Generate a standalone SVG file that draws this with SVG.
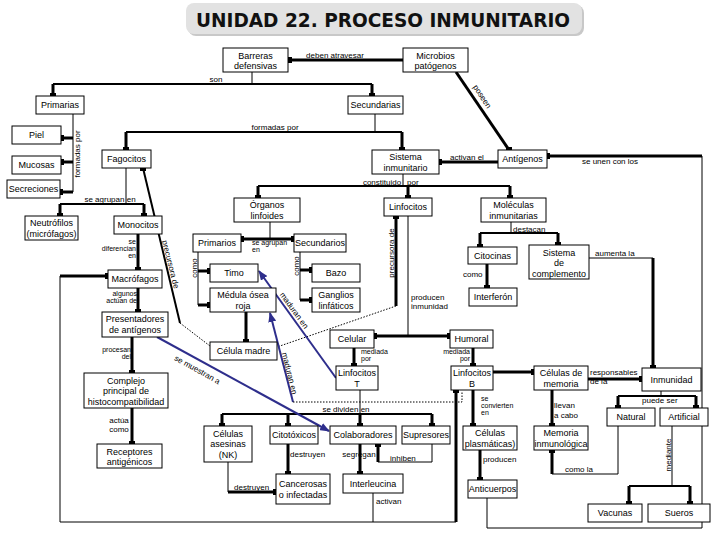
<svg xmlns="http://www.w3.org/2000/svg" width="720" height="540" viewBox="0 0 720 540">
<defs>
<marker id="sq" markerWidth="6" markerHeight="6" refX="3" refY="3" markerUnits="userSpaceOnUse"><rect width="6" height="6" fill="#000"/></marker>
<marker id="ar" markerWidth="10" markerHeight="8" refX="9" refY="4" orient="auto" markerUnits="userSpaceOnUse"><path d="M0,0 L10,4 L0,8 Z" fill="#2e2e8c"/></marker>
<style>
.b{fill:#fff;stroke:#000;stroke-width:1}
text{font-family:"Liberation Sans",Arial,sans-serif;font-size:9px;fill:#000}
.c{text-anchor:middle}
.r{text-anchor:end}
.l{font-size:8px}
.s{font-size:7px}
.thin{stroke:#000;stroke-width:1;fill:none}
.med{stroke:#000;stroke-width:2;fill:none}
.thk{stroke:#000;stroke-width:3;fill:none}
.e{marker-end:url(#sq)}
.blue{stroke:#2e2e8c;stroke-width:2;fill:none;marker-end:url(#ar)}
.dot{stroke:#000;stroke-width:1;stroke-dasharray:1.5 1.5;fill:none}
</style>
</defs>
<rect width="720" height="540" fill="#fff"/>

<g id="title">
<rect x="188" y="5" width="396" height="31" rx="8" fill="#c8c8c8"/>
<rect x="186" y="3" width="396" height="31" rx="8" fill="#e2e2e2"/>
<text x="383" y="27" class="c" style="font-family:'DejaVu Sans',Verdana,sans-serif;font-size:20px;font-weight:bold;fill:#111" textLength="374" lengthAdjust="spacingAndGlyphs">UNIDAD 22. PROCESO INMUNITARIO</text>
</g>

<g id="connectors">
<path class="thk e" d="M403,60 H289"/>
<path class="thin" d="M252,72 V84"/>
<path class="med" d="M53,84 H372"/>
<path class="thk e" d="M53,84 V96"/>
<path class="thk e" d="M372,84 V96"/>
<path class="thk e" d="M456,72 L509,150"/>
<path class="thin" d="M73,114 V192"/>
<path class="thk e" d="M73,138 H61"/>
<path class="thk e" d="M73,162 H61"/>
<path class="thk e" d="M73,192 H60"/>
<path class="thin" d="M375,114 V132"/>
<path class="med" d="M126,132 H402"/>
<path class="thk e" d="M126,132 V150"/>
<path class="thk e" d="M402,132 V150"/>
<path class="thk e" d="M498,162 H439"/>
<path class="thk" d="M547,156 H702" marker-start="url(#sq)"/>
<path class="thin" d="M702,156 V528 H487 V498"/>
<path class="thin" d="M403,174 V186"/>
<path class="med" d="M258,186 H510"/>
<path class="thk e" d="M258,186 V198"/>
<path class="thk e" d="M408,186 V198"/>
<path class="thk e" d="M510,186 V198"/>
<path class="thin" d="M126,168 V204"/>
<path class="med" d="M60,204 H144"/>
<path class="thk e" d="M60,204 V216"/>
<path class="thk e" d="M144,204 V216"/>
<path class="thk e" d="M138,234 V270"/>
<path class="thk e" d="M138,288 V312"/>
<path class="thk e" d="M132,337 V373"/>
<path class="thk e" d="M132,408 V444"/>
<path class="med e" d="M180,323 L143,168"/>
<path class="dot" d="M180,323 L210,346"/>
<path class="thin" d="M270,222 V239"/>
<path class="thk e" d="M270,239 H241"/>
<path class="thk e" d="M270,239 H294"/>
<path class="thin" d="M198,252 V305"/>
<path class="thk e" d="M198,271 H210"/>
<path class="thk e" d="M198,305 H210"/>
<path class="thk e" d="M246,312 V342"/>
<path class="thin" d="M300,252 V300"/>
<path class="thk e" d="M300,270 H312"/>
<path class="thk e" d="M300,300 H312"/>
<path class="thk e" d="M396,306 V216"/>
<path class="dot" d="M396,306 L277,347"/>
<path class="thin" d="M408,216 V336"/>
<path class="thk e" d="M408,336 H374"/>
<path class="thk e" d="M408,336 H450"/>
<path class="thk e" d="M354,348 V366"/>
<path class="thk e" d="M473,348 V366"/>
<path class="thin" d="M360,390 V414"/>
<path class="med" d="M222,414 H432"/>
<path class="thk e" d="M222,414 V426"/>
<path class="thk e" d="M288,414 V426"/>
<path class="thk e" d="M360,414 V426"/>
<path class="thk e" d="M432,414 V426"/>
<path class="thk e" d="M288,444 V474"/>
<path class="thin" d="M228,462 V492"/>
<path class="thk e" d="M228,492 H276"/>
<path class="thk e" d="M360,444 V474"/>
<path class="thin" d="M432,444 V462 H378"/>
<path class="thk e" d="M378,462 V444"/>
<path class="thin" d="M373,493 V522"/>
<path class="thin" d="M60,522 H456"/>
<path class="thin" d="M60,522 V276"/>
<path class="thk e" d="M60,276 H108"/>
<path class="thk e" d="M456,522 V390"/>
<path class="thin" d="M511,222 V233"/>
<path class="med" d="M480,233 H558"/>
<path class="thk e" d="M480,233 V247"/>
<path class="thk e" d="M558,233 V245"/>
<path class="thk e" d="M487,264 V288"/>
<path class="thin" d="M589,258 H653"/>
<path class="thk e" d="M653,258 V368"/>
<path class="thk e" d="M493,372 H534"/>
<path class="thk e" d="M588,379 H642"/>
<path class="thk e" d="M552,390 V426"/>
<path class="thk e" d="M473,390 V426"/>
<path class="thk e" d="M480,450 V480"/>
<path class="thin" d="M661,391 V396"/>
<path class="med" d="M618,396 H696"/>
<path class="thk e" d="M618,396 V408"/>
<path class="thk e" d="M696,396 V408"/>
<path class="thin" d="M618,426 V474 H552"/>
<path class="thk e" d="M552,474 V450"/>
<path class="thin" d="M672,426 V486"/>
<path class="med" d="M629,486 H690"/>
<path class="thk e" d="M629,486 V504"/>
<path class="thk e" d="M690,486 V504"/>
<path class="blue" d="M157,337 L329,431"/>
<path class="blue" d="M336,378 L259,271"/>
<path class="blue" d="M293,402 L270,313"/>
<path class="dot" d="M293,402 H462 V391"/>

<text class="l c" x="335" y="58">deben atravesar</text>
<text class="l c" x="216" y="82">son</text>
<text class="l c" transform="translate(480,98) rotate(56)">poseen</text>
<text class="l c" transform="translate(80,154) rotate(-90)">formadas por</text>
<text class="l c" x="275" y="130">formadas por</text>
<text class="l c" x="467" y="160">activan el</text>
<text class="l c" x="610" y="164">se unen con los</text>
<text class="l c" x="382" y="185">constituido</text>
<text class="l" x="407" y="185">por</text>
<text class="l c" x="110" y="202">se agrupan en</text>
<text class="s r" x="136" y="244">se</text>
<text class="s r" x="136" y="251">diferencian</text>
<text class="s r" x="136" y="258">en</text>
<text class="s r" x="137" y="296">algunos</text>
<text class="s r" x="137" y="303">actúan de</text>
<text class="s r" x="131" y="352">procesan</text>
<text class="s r" x="131" y="359">del</text>
<text class="l c" x="119" y="423">actúa</text>
<text class="l c" x="119" y="432">como</text>
<text class="l c" transform="translate(168,265) rotate(76)">precursora de</text>
<text class="l c" transform="translate(196,372) rotate(29)">se muestran a</text>
<text class="s" x="252" y="245">se agrupan</text>
<text class="s" x="252" y="252">en</text>
<text class="l c" transform="translate(197,268) rotate(-90)">como</text>
<text class="l c" transform="translate(299,266) rotate(-90)">como</text>
<text class="l c" transform="translate(394,253) rotate(-90)">precursora de</text>
<text class="l" x="411" y="300">producen</text>
<text class="l" x="411" y="309">inmunidad</text>
<text class="s" x="361" y="354">mediada</text>
<text class="s" x="361" y="361">por</text>
<text class="s r" x="470" y="354">mediada</text>
<text class="s r" x="470" y="361">por</text>
<text class="l c" transform="translate(292,312) rotate(54)">maduran en</text>
<text class="l c" transform="translate(287,374) rotate(76)">maduran en</text>
<text class="l c" x="346" y="412">se dividen en</text>
<text class="l" x="290" y="457">destruyen</text>
<text class="l c" x="359" y="457">segregan</text>
<text class="l" x="390" y="461">inhiben</text>
<text class="l" x="234" y="490">destruyen</text>
<text class="l" x="376" y="504">activan</text>
<text class="l" x="513" y="232">destacan</text>
<text class="l" x="463" y="277">como</text>
<text class="l" x="595" y="256">aumenta la</text>
<text class="s" x="481" y="401">se</text>
<text class="s" x="481" y="408">convierten</text>
<text class="s" x="481" y="415">en</text>
<text class="l" x="483" y="462">producen</text>
<text class="l" x="590" y="375">responsables</text>
<text class="l" x="590" y="384">de la</text>
<text class="l" x="554" y="408">llevan</text>
<text class="l" x="554" y="418">a cabo</text>
<text class="l" x="642" y="403">puede ser</text>
<text class="l" x="565" y="472">como la</text>
<text class="l c" transform="translate(671,455) rotate(-90)">mediante</text>
</g>

<g id="barreras"><rect class="b" x="223" y="48" width="65" height="24"/><text class="c" x="255.5" y="58.5">Barreras</text><text class="c" x="255.5" y="68.5">defensivas</text></g>
<g id="microbios"><rect class="b" x="403" y="48" width="65" height="24"/><text class="c" x="435.5" y="58.5">Microbios</text><text class="c" x="435.5" y="68.5">patógenos</text></g>
<g id="primarias"><rect class="b" x="36" y="96" width="48" height="18"/><text class="c" x="60" y="108">Primarias</text></g>
<g id="secundarias"><rect class="b" x="348" y="96" width="55" height="18"/><text class="c" x="375.5" y="108">Secundarias</text></g>
<g id="piel"><rect class="b" x="12" y="126" width="49" height="18"/><text class="c" x="36.5" y="138">Piel</text></g>
<g id="mucosas"><rect class="b" x="12" y="156" width="49" height="18"/><text class="c" x="36.5" y="168">Mucosas</text></g>
<g id="secreciones"><rect class="b" x="7" y="180" width="53" height="18"/><text class="c" x="33.5" y="192">Secreciones</text></g>
<g id="fagocitos"><rect class="b" x="102" y="150" width="49" height="18"/><text class="c" x="126.5" y="162">Fagocitos</text></g>
<g id="sistema"><rect class="b" x="372" y="150" width="67" height="24"/><text class="c" x="405.5" y="160">Sistema</text><text class="c" x="405.5" y="170.5">inmunitario</text></g>
<g id="antigenos"><rect class="b" x="498" y="150" width="49" height="18"/><text class="c" x="522.5" y="162">Antígenos</text></g>
<g id="organos"><rect class="b" x="234" y="198" width="66" height="24"/><text class="c" x="267" y="208">Órganos</text><text class="c" x="267" y="218.5">linfoides</text></g>
<g id="linfocitos"><rect class="b" x="384" y="198" width="48" height="18"/><text class="c" x="408" y="210">Linfocitos</text></g>
<g id="moleculas"><rect class="b" x="481" y="198" width="65" height="24"/><text class="c" x="513.5" y="208">Moléculas</text><text class="c" x="513.5" y="218.5">inmunitarias</text></g>
<g id="neutrofilos"><rect class="b" x="25" y="216" width="53" height="24"/><text class="c" x="51.5" y="226">Neutrófilos</text><text class="c" x="51.5" y="236.5">(micrófagos)</text></g>
<g id="monocitos"><rect class="b" x="114" y="216" width="48" height="18"/><text class="c" x="138" y="228">Monocitos</text></g>
<g id="macrofagos"><rect class="b" x="108" y="270" width="54" height="18"/><text class="c" x="135" y="282">Macrófagos</text></g>
<g id="presentadores"><rect class="b" x="102" y="312" width="66" height="25"/><text class="c" x="135" y="322">Presentadores</text><text class="c" x="135" y="333">de antígenos</text></g>
<g id="complejo"><rect class="b" x="84" y="373" width="84" height="35"/><text class="c" x="126" y="384">Complejo</text><text class="c" x="126" y="394">principal de</text><text class="c" x="126" y="405">histocompatibilidad</text></g>
<g id="receptores"><rect class="b" x="97" y="444" width="65" height="24"/><text class="c" x="129.5" y="454.5">Receptores</text><text class="c" x="129.5" y="465">antigénicos</text></g>
<g id="primarios"><rect class="b" x="193" y="234" width="48" height="18"/><text class="c" x="217" y="246">Primarios</text></g>
<g id="secundarios"><rect class="b" x="294" y="234" width="52" height="18"/><text class="c" x="320" y="246">Secundarios</text></g>
<g id="timo"><rect class="b" x="210" y="264" width="48" height="18"/><text class="c" x="234" y="276">Timo</text></g>
<g id="medula"><rect class="b" x="210" y="288" width="66" height="24"/><text class="c" x="243" y="298">Médula ósea</text><text class="c" x="243" y="308.5">roja</text></g>
<g id="celulamadre"><rect class="b" x="210" y="342" width="67" height="18"/><text class="c" x="243.5" y="354">Célula madre</text></g>
<g id="bazo"><rect class="b" x="312" y="264" width="48" height="18"/><text class="c" x="336" y="276">Bazo</text></g>
<g id="ganglios"><rect class="b" x="312" y="288" width="48" height="24"/><text class="c" x="336" y="298">Ganglios</text><text class="c" x="336" y="308.5">linfáticos</text></g>
<g id="citocinas"><rect class="b" x="468" y="247" width="49" height="17"/><text class="c" x="492.5" y="258.5">Citocinas</text></g>
<g id="complemento"><rect class="b" x="529" y="245" width="60" height="34"/><text class="c" x="559" y="256">Sistema</text><text class="c" x="559" y="266">de</text><text class="c" x="559" y="276.5">complemento</text></g>
<g id="interferon"><rect class="b" x="469" y="288" width="48" height="18"/><text class="c" x="493" y="300">Interferón</text></g>
<g id="celular"><rect class="b" x="330" y="330" width="44" height="18"/><text class="c" x="352" y="342">Celular</text></g>
<g id="humoral"><rect class="b" x="450" y="330" width="43" height="18"/><text class="c" x="471.5" y="342">Humoral</text></g>
<g id="linfocitosT"><rect class="b" x="336" y="366" width="42" height="24"/><text class="c" x="357" y="376">Linfocitos</text><text class="c" x="357" y="386.5">T</text></g>
<g id="linfocitosB"><rect class="b" x="451" y="366" width="42" height="24"/><text class="c" x="472" y="376">Linfocitos</text><text class="c" x="472" y="386.5">B</text></g>
<g id="asesinas"><rect class="b" x="204" y="426" width="48" height="36"/><text class="c" x="228" y="437">Células</text><text class="c" x="228" y="447">asesinas</text><text class="c" x="228" y="458">(NK)</text></g>
<g id="citotoxicos"><rect class="b" x="270" y="426" width="48" height="18"/><text class="c" x="294" y="438">Citotóxicos</text></g>
<g id="colaboradores"><rect class="b" x="330" y="426" width="66" height="18"/><text class="c" x="363" y="438">Colaboradores</text></g>
<g id="supresores"><rect class="b" x="402" y="426" width="48" height="18"/><text class="c" x="426" y="438">Supresores</text></g>
<g id="cancerosas"><rect class="b" x="276" y="474" width="54" height="30"/><text class="c" x="303" y="487">Cancerosas</text><text class="c" x="303" y="498">o infectadas</text></g>
<g id="interleucina"><rect class="b" x="343" y="474" width="60" height="19"/><text class="c" x="373" y="486.5">Interleucina</text></g>
<g id="plasmaticas"><rect class="b" x="463" y="426" width="54" height="24"/><text class="c" x="490" y="436">Células</text><text class="c" x="490" y="446.5">plasmáticas)</text></g>
<g id="anticuerpos"><rect class="b" x="468" y="480" width="49" height="18"/><text class="c" x="492.5" y="492">Anticuerpos</text></g>
<g id="celmemoria"><rect class="b" x="534" y="366" width="54" height="24"/><text class="c" x="561" y="376">Células de</text><text class="c" x="561" y="386.5">memoria</text></g>
<g id="memoria"><rect class="b" x="534" y="426" width="54" height="24"/><text class="c" x="561" y="436">Memoria</text><text class="c" x="561" y="446.5">inmunológica</text></g>
<g id="inmunidad"><rect class="b" x="642" y="368" width="59" height="23"/><text class="c" x="671.5" y="383">Inmunidad</text></g>
<g id="natural"><rect class="b" x="607" y="408" width="48" height="18"/><text class="c" x="631" y="420">Natural</text></g>
<g id="artificial"><rect class="b" x="660" y="408" width="48" height="18"/><text class="c" x="684" y="420">Artificial</text></g>
<g id="vacunas"><rect class="b" x="588" y="504" width="54" height="18"/><text class="c" x="615" y="516">Vacunas</text></g>
<g id="sueros"><rect class="b" x="648" y="504" width="62" height="18"/><text class="c" x="679" y="516">Sueros</text></g>
</svg>
